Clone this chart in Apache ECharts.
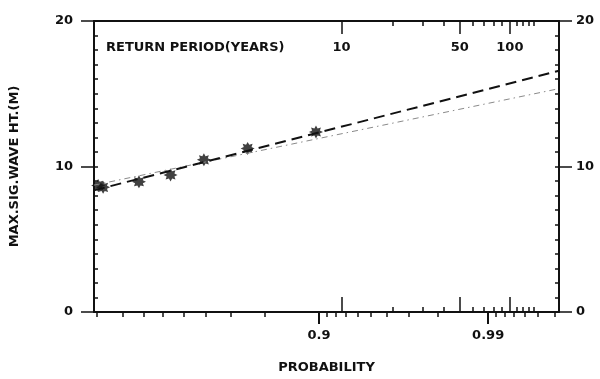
<!DOCTYPE html>
<html>
<head>
<meta charset="utf-8">
<script src="https://cdn.jsdelivr.net/npm/echarts@6/dist/echarts.min.js"></script>
<style>
  html, body { margin: 0; padding: 0; background: #fff; }
  #chart { width: 600px; height: 379px; }
</style>
</head>
<body>
<div id="chart"></div>
<script>
// Annual maximum significant wave height on Gumbel probability paper.

// Observed maxima: non-exceedance probability and wave height (m)
const sampleProb   = [0.104, 0.121, 0.277, 0.437, 0.594, 0.753, 0.896];
const sampleHeight = [8.70, 8.57, 8.95, 9.42, 10.46, 11.24, 12.37];

// Fitted distributions (end values across the plotted probability range)
const fitProbRange    = [0.091, 0.99625];
const dashedFitHeight = [8.36, 16.58];
const thinFitHeight   = [8.72, 15.35];

// Probability axis ticks
const probMajorTicks  = [0.9, 0.99];
const probMajorLabels = ['0.9', '0.99'];
const probMinorTicks  = [0.1, 0.2, 0.3, 0.4, 0.5, 0.6, 0.7, 0.8,
                         0.91, 0.92, 0.93, 0.94, 0.95, 0.96, 0.97, 0.98,
                         0.991, 0.992, 0.993, 0.994, 0.995, 0.996];

// Return period axis ticks (years)
const periodMajorTicks  = [10, 50, 100];
const periodMajorLabels = ['10', '50', '100'];
const periodMinorTicks  = [20, 30, 40, 60, 70, 80, 90, 110, 120, 130, 140];
const EVENTS_PER_YEAR = 1.35;

// Height axis
const heightMin = 0, heightMax = 20, heightMajorStep = 10, heightMinorStep = 1;

// Gumbel reduced variate: the linear coordinate of the probability axis
const gumbel = p => -Math.log(-Math.log(p));
const periodToProb = T => 1 - 1 / (EVENTS_PER_YEAR * T);

const xMin = gumbel(fitProbRange[0]);
const xMax = gumbel(fitProbRange[1]);

function labelLookup(positions, labels) {
  return function (v) {
    let best = 0, d = Infinity;
    positions.forEach((p, i) => { const e = Math.abs(p - v); if (e < d) { d = e; best = i; } });
    return d < 1e-6 ? labels[best] : '';
  };
}

const probMajorPos   = probMajorTicks.map(gumbel);
const probMinorPos   = probMinorTicks.map(gumbel);
const periodMajorPos = periodMajorTicks.map(T => gumbel(periodToProb(T)));
const periodMinorPos = periodMinorTicks.map(T => gumbel(periodToProb(T)));

// eight-pointed asterisk marker
function asteriskPath() {
  let d = '';
  for (let i = 0; i < 16; i++) {
    const a = i * Math.PI / 8 - Math.PI / 2;
    const r = i % 2 ? 30 : 50;
    const x = (50 + r * Math.cos(a)).toFixed(2), y = (50 + r * Math.sin(a)).toFixed(2);
    d += (i ? 'L' : 'M') + x + ' ' + y + ' ';
  }
  return 'path://' + d + 'Z';
}

const INK = '#111';
const FONT = 'DejaVu Sans';
const labelStyle = { color: INK, fontFamily: FONT, fontWeight: 'bold', fontSize: 13 };

function xAxisBase(pos) {
  return {
    type: 'value', position: pos, min: xMin, max: xMax,
    splitLine: { show: false },
    axisLine: { show: false, onZero: false },
    axisLabel: { show: false },
    axisTick: { show: false }
  };
}

const xAxes = [
  // bottom: probability, long ticks + labels
  Object.assign(xAxisBase('bottom'), {
    axisLine: { show: true, onZero: false, lineStyle: { color: INK, width: 2 } },
    axisTick: { show: true, customValues: probMajorPos, length: 12, inside: false,
                lineStyle: { color: INK, width: 2 } },
    axisLabel: Object.assign({ show: true, customValues: probMajorPos, margin: 17,
                formatter: labelLookup(probMajorPos, probMajorLabels) }, labelStyle),
    name: 'PROBABILITY', nameLocation: 'middle', nameGap: 49,
    nameTextStyle: Object.assign({}, labelStyle)
  }),
  // bottom: probability, short ticks
  Object.assign(xAxisBase('bottom'), {
    axisTick: { show: true, customValues: probMinorPos, length: 5, inside: false,
                lineStyle: { color: INK, width: 1.5 } }
  }),
  // bottom: return period, inward ticks
  Object.assign(xAxisBase('bottom'), {
    axisTick: { show: true, customValues: periodMajorPos, length: 15, inside: true,
                lineStyle: { color: INK, width: 1.5 } }
  }),
  Object.assign(xAxisBase('bottom'), {
    axisTick: { show: true, customValues: periodMinorPos, length: 5, inside: true,
                lineStyle: { color: INK, width: 1.5 } }
  }),
  // top: return period with labels
  Object.assign(xAxisBase('top'), {
    axisLine: { show: true, onZero: false, lineStyle: { color: INK, width: 2 } },
    axisTick: { show: true, customValues: periodMajorPos, length: 13, inside: true,
                lineStyle: { color: INK, width: 1.5 } },
    axisLabel: Object.assign({ show: true, inside: true, customValues: periodMajorPos, margin: 20,
                formatter: labelLookup(periodMajorPos, periodMajorLabels) }, labelStyle)
  }),
  Object.assign(xAxisBase('top'), {
    axisTick: { show: true, customValues: periodMinorPos, length: 5, inside: true,
                lineStyle: { color: INK, width: 1.5 } }
  })
];

function yAxisBase(pos) {
  return {
    type: 'value', position: pos, min: heightMin, max: heightMax,
    splitLine: { show: false },
    axisLine: { show: false, onZero: false },
    axisLabel: { show: false },
    axisTick: { show: false }
  };
}

const yAxes = [
  Object.assign(yAxisBase('left'), {
    interval: heightMajorStep,
    axisLine: { show: true, onZero: false, lineStyle: { color: INK, width: 2 } },
    axisTick: { show: true, length: 13, inside: false, lineStyle: { color: INK, width: 1.5 } },
    axisLabel: Object.assign({ show: true, margin: 21 }, labelStyle),
    name: 'MAX.SIG.WAVE HT.(M)', nameLocation: 'middle', nameRotate: 90, nameGap: 73,
    nameTextStyle: Object.assign({}, labelStyle)
  }),
  Object.assign(yAxisBase('left'), {
    interval: heightMinorStep,
    axisTick: { show: true, length: 4, inside: true, lineStyle: { color: INK, width: 1.5 } }
  }),
  Object.assign(yAxisBase('right'), {
    interval: heightMajorStep,
    axisLine: { show: true, onZero: false, lineStyle: { color: INK, width: 2 } },
    axisTick: { show: true, length: 13, inside: false, lineStyle: { color: INK, width: 1.5 } },
    axisLabel: Object.assign({ show: true, margin: 17 }, labelStyle)
  }),
  Object.assign(yAxisBase('right'), {
    interval: heightMinorStep,
    axisTick: { show: true, length: 4, inside: true, lineStyle: { color: INK, width: 1.5 } }
  })
];

const toPoints = (probs, vals) => probs.map((p, i) => [gumbel(p), vals[i]]);

const chart = echarts.init(document.getElementById('chart'), null, { renderer: 'canvas' });
chart.setOption({
  animation: false,
  backgroundColor: '#fff',
  grid: { left: 93, right: 41, top: 21, bottom: 63, containLabel: false },
  xAxis: xAxes,
  yAxis: yAxes,
  graphic: [{
    type: 'text', left: 106, top: 41,
    style: { text: 'RETURN PERIOD(YEARS)', fill: INK, font: 'bold 13px "DejaVu Sans"' }
  }],
  series: [
    {
      type: 'line', xAxisIndex: 0, yAxisIndex: 0,
      data: toPoints(fitProbRange, thinFitHeight),
      symbol: 'none', silent: true,
      lineStyle: { color: '#8a8a8a', width: 1, type: [6, 4, 1.5, 4] }
    },
    {
      type: 'line', xAxisIndex: 0, yAxisIndex: 0,
      data: toPoints(fitProbRange, dashedFitHeight),
      symbol: 'none', silent: true,
      lineStyle: { color: INK, width: 2, type: [11, 6] }
    },
    {
      type: 'scatter', xAxisIndex: 0, yAxisIndex: 0,
      data: toPoints(sampleProb, sampleHeight),
      symbol: asteriskPath(), symbolSize: [14, 13],
      itemStyle: { color: INK }
    }
  ]
});
</script>
</body>
</html>
